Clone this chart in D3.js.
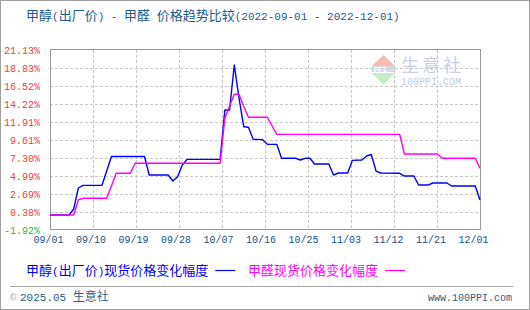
<!DOCTYPE html>
<html>
<head>
<meta charset="utf-8">
<script src="https://cdn.jsdelivr.net/npm/d3@7"></script>
<style>
  body { margin: 0; background: #fff; }
  text { font-family: "Liberation Mono", "DejaVu Sans Mono", monospace; }
  .cjk { font-family: "Noto Sans CJK SC", sans-serif; }
</style>
</head>
<body>
<svg id="chart"></svg>
<script>
var width = 530;
var height = 310;

// data (percent change vs 2022-09-01)
const yTicks = [-1.92, 0.38, 2.69, 4.99, 7.30, 9.61, 11.91, 14.22, 16.52, 18.83, 21.13];
const xLabels = ['09/01', '09/10', '09/19', '09/28', '10/07', '10/16', '10/25', '11/03', '11/12', '11/21', '12/01'];

const methanolDates = ['09-01', '09-05', '09-06', '09-07', '09-08', '09-12', '09-13', '09-14', '09-21', '09-22',
    '09-26', '09-27', '09-28', '09-29', '09-30', '10-07', '10-08', '10-09', '10-10', '10-11',
    '10-12', '10-13', '10-14', '10-16', '10-17', '10-19', '10-20', '10-23', '10-24', '10-25',
    '10-26', '10-27', '10-30', '10-31', '11-01', '11-03', '11-04', '11-06', '11-07', '11-08',
    '11-09', '11-10', '11-14', '11-15', '11-17', '11-18', '11-20', '11-21', '11-24', '11-25',
    '11-30', '12-01'];
const methanolValues = [0, 0, 0.73, 3.46, 3.80, 3.80, 5.63, 7.49, 7.49, 5.12,
    5.12, 4.35, 4.90, 6.40, 7.13, 7.13, 13.45, 13.45, 19.21, 14.98,
    11.31, 11.23, 9.69, 9.65, 9.05, 9.05, 7.26, 7.26, 7.04, 7.26,
    7.26, 6.53, 6.53, 5.12, 5.38, 5.38, 7.00, 7.04, 7.56, 7.75,
    5.63, 5.38, 5.34, 4.99, 4.99, 3.84, 3.84, 4.10, 4.10, 3.71,
    3.71, 1.92];

const formaldehydeDates = ['09-01', '09-06', '09-07', '09-08', '09-13', '09-14', '09-15', '09-18', '09-19', '10-07',
    '10-08', '10-09', '10-10', '10-11', '10-12', '10-13', '10-17', '10-18', '10-19', '11-14',
    '11-15', '11-22', '11-23', '11-30', '12-01'];
const formaldehydeValues = [0, 0, 1.92, 2.14, 2.14, 3.70, 5.34, 5.34, 6.62, 6.62,
    12.40, 13.96, 15.46, 15.46, 13.90, 12.51, 12.51, 11.40, 10.33, 10.33,
    7.81, 7.81, 7.26, 7.26, 5.98];

const titleText = '甲醇(出厂价) - 甲醛 价格趋势比较(2022-09-01 - 2022-12-01)';
const legendNames = ['甲醇(出厂价)现货价格变化幅度', '甲醛现货价格变化幅度'];
const lineColors = ['#0000ff', '#ff00ff'];

const parseDay = d3.timeParse('%Y-%m-%d');
function toSeries(dates, values) {
    return dates.map((d, i) => ({ date: parseDay('2022-' + d), value: values[i] }));
}
const series = [toSeries(methanolDates, methanolValues), toSeries(formaldehydeDates, formaldehydeValues)];

// split a string into CJK / ascii runs so ascii can be drawn narrow and mono
function addMixedText(sel, str, cjkSize, asciiSize) {
    var runs = str.match(/[\u3000-\u9fff]+|[^\u3000-\u9fff]+/g);
    runs.forEach(r => {
        var isCjk = /[\u3000-\u9fff]/.test(r);
        sel.append('tspan')
            .attr('font-family', isCjk ? 'Noto Sans CJK SC, sans-serif' : 'Liberation Mono, monospace')
            .attr('font-size', isCjk ? cjkSize : asciiSize)
            .attr('xml:space', 'preserve')
            .text(r);
    });
    return sel;
}

var plot = { left: 50, right: 480, top: 50, bottom: 230 };

var svg = d3.select('#chart').attr('width', width).attr('height', height);

svg.append('rect')
    .attr('x', 0.5).attr('y', 0.5)
    .attr('width', width - 1).attr('height', height - 1)
    .attr('fill', '#fff').attr('stroke', '#a0a0a0');

var x = d3.scaleTime()
    .domain([parseDay('2022-09-01'), parseDay('2022-12-01')])
    .range([plot.left, plot.right]);
var xGrid = d3.scalePoint().domain(xLabels).range([plot.left, plot.right]);
var y = d3.scaleLinear().domain([yTicks[0], yTicks[yTicks.length - 1]]).range([plot.bottom, plot.top]);

// title
var title = svg.append('text')
    .attr('x', 26).attr('y', 20)
    .attr('fill', '#1b5a8a')
    .style('white-space', 'pre');
addMixedText(title, titleText, 13, 11);

// watermark
var wm = svg.append('g');
wm.append('path').attr('d', 'M372,66 L383.5,55 L395,66 Z').attr('fill', '#f6bcb4');
wm.append('rect').attr('x', 372).attr('y', 66).attr('width', 23).attr('height', 6).attr('fill', '#d6dbe6');
wm.append('text').attr('x', 374).attr('y', 72).attr('font-size', 7).attr('fill', '#ffffff').attr('font-weight', 'bold').text('PPI');
wm.append('path').attr('d', 'M372,73 L395,73 L383.5,85 Z').attr('fill', '#c6ecc6');
wm.append('text').attr('class', 'cjk').attr('x', 401).attr('y', 72)
    .attr('font-size', 18).attr('fill', '#c9cfe2').attr('letter-spacing', 3).text('生意社');
wm.append('text').attr('x', 401).attr('y', 85)
    .attr('font-size', 10).attr('fill', '#c4cad8').attr('font-family', 'Liberation Sans, sans-serif').text('100PPI.COM');

// grid
var grid = svg.append('g').attr('stroke', '#c8c8c8').attr('stroke-dasharray', '3,2');
grid.selectAll('line.h')
    .data(yTicks.slice(1, -1))
    .enter().append('line')
    .attr('x1', plot.left).attr('x2', plot.right)
    .attr('y1', d => Math.round(y(d)) + 0.5).attr('y2', d => Math.round(y(d)) + 0.5);
grid.selectAll('line.v')
    .data(xLabels.slice(1, -1))
    .enter().append('line')
    .attr('x1', d => Math.round(xGrid(d)) + 0.5).attr('x2', d => Math.round(xGrid(d)) + 0.5)
    .attr('y1', plot.top).attr('y2', plot.bottom);

// frame
svg.append('rect')
    .attr('x', plot.left + 0.5).attr('y', plot.top - 0.5)
    .attr('width', plot.right - plot.left).attr('height', plot.bottom - plot.top)
    .attr('fill', 'none').attr('stroke', '#999');

// y axis labels
var yAxis = d3.axisLeft(y).tickValues(yTicks).tickSize(0).tickPadding(0)
    .tickFormat(d => d.toFixed(2) + '%');
var gy = svg.append('g').attr('transform', 'translate(40,0)').call(yAxis);
gy.select('.domain').remove();
gy.selectAll('text')
    .attr('font-size', 10)
    .attr('font-family', 'Liberation Mono, monospace')
    .attr('fill', d => d < 0 ? '#3cb43c' : '#f03c3c');

// x axis labels
var xAxis = d3.axisBottom(d3.scalePoint().domain(xLabels).range([48, 473])).tickSize(0).tickPadding(0);
var gx = svg.append('g').attr('transform', 'translate(0,236)').call(xAxis);
gx.select('.domain').remove();
gx.selectAll('text')
    .attr('font-size', 10)
    .attr('font-family', 'Liberation Mono, monospace')
    .attr('fill', '#1a4f7e');

// lines
var line = d3.line().x(d => x(d.date)).y(d => y(d.value));
svg.selectAll('path.series')
    .data(series)
    .enter().append('path')
    .attr('class', 'series')
    .attr('fill', 'none')
    .attr('stroke', (d, i) => lineColors[i])
    .attr('stroke-width', 1.4)
    .attr('stroke-linejoin', 'round')
    .attr('d', line);

// legend
var legendX = [26, 248];
legendNames.forEach((name, i) => {
    var t = svg.append('text')
        .attr('x', legendX[i]).attr('y', 275)
        .attr('fill', lineColors[i]);
    addMixedText(t, name, 13, 11);
    var w = t.node().getComputedTextLength();
    svg.append('line')
        .attr('x1', legendX[i] + w + 7).attr('x2', legendX[i] + w + 27)
        .attr('y1', 270.5).attr('y2', 270.5)
        .attr('stroke', lineColors[i]).attr('stroke-width', 1.2);
});

// footer
svg.append('line')
    .attr('x1', 10).attr('x2', 513).attr('y1', 286.5).attr('y2', 286.5)
    .attr('stroke', '#a8a8a8');
var foot = svg.append('text').attr('x', 10).attr('y', 301).attr('font-size', 11).attr('fill', '#2c5e80');
foot.append('tspan').attr('fill', '#9aa6b4').attr('font-size', 10).text('©');
foot.append('tspan').attr('dx', 4).text('2025.05 ');
foot.append('tspan').attr('class', 'cjk').attr('font-size', 12).text('生意社');
svg.append('text')
    .attr('x', 512).attr('y', 301)
    .attr('text-anchor', 'end')
    .attr('font-size', 10)
    .attr('fill', '#2c5e80')
    .text('www.100PPI.com');
</script>
</body>
</html>
